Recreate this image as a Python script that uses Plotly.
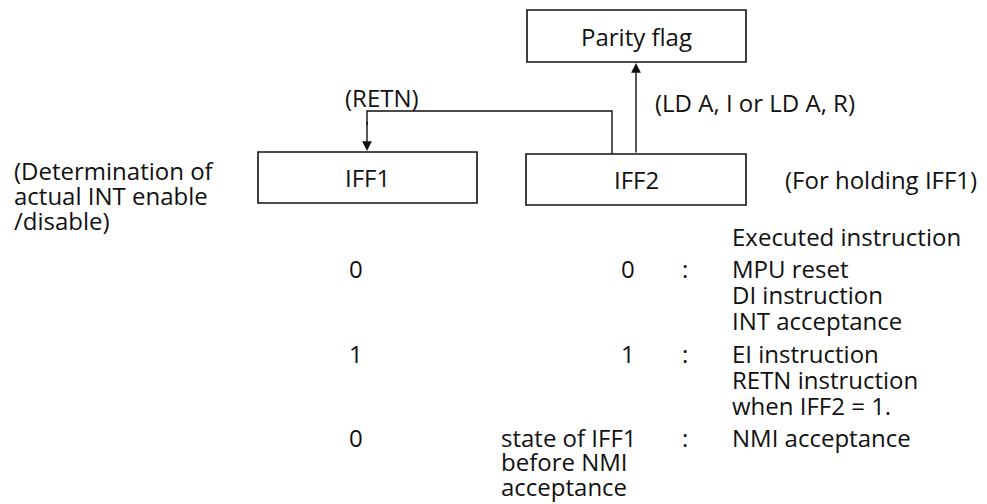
import plotly.graph_objects as go

# ---- content (text of the diagram) ----
box_labels = ["Parity flag", "IFF1", "IFF2"]
flow_labels = ["(RETN)", "(LD A, I or LD A, R)"]
side_notes = ["(Determination of", "actual INT enable", "/disable)"]
iff2_note = "(For holding IFF1)"
table_header = "Executed instruction"
iff1_states = ["0", "1", "0"]
iff2_states = [["0"], ["1"], ["state of IFF1", "before NMI", "acceptance"]]
instructions = [
    ["MPU reset", "DI instruction", "INT acceptance"],
    ["EI instruction", "RETN instruction", "when IFF2 = 1."],
    ["NMI acceptance"],
]

# ---- layout geometry (pixel-like axis units) ----
W, H = 987, 504
FONT = "Open Sans"
FS = 24
INK = "#111111"

box_geom = {
    "Parity flag": (527, 746, 10, 62),
    "IFF1": (258, 477, 152, 203),
    "IFF2": (526, 746, 154, 205),
}
row_y = [268, 353, 437]
line_step = 26

fig = go.Figure()
fig.add_trace(go.Scatter(x=[0, W], y=[0, H], mode="markers",
                         marker=dict(opacity=0), hoverinfo="skip", showlegend=False))

shapes = []
annotations = []

def text(x, y, s, anchor="left"):
    annotations.append(dict(x=x, y=y, xref="x", yref="y", text=s, showarrow=False,
                            xanchor=anchor, yanchor="middle",
                            font=dict(family=FONT, size=FS, color=INK)))

for lab in box_labels:
    x0, x1, y0, y1 = box_geom[lab]
    shapes.append(dict(type="rect", x0=x0, x1=x1, y0=y0, y1=y1, xref="x", yref="y",
                       line=dict(color=INK, width=1.6), fillcolor="rgba(0,0,0,0)"))
    text((x0 + x1) / 2, (y0 + y1) / 2, lab, anchor="center")

# RETN feedback path: IFF2 top -> up -> left -> down into IFF1 (arrow)
shapes.append(dict(type="path", path="M 612 154 L 612 111 L 367 111 L 367 125",
                   xref="x", yref="y", line=dict(color=INK, width=1.4)))
annotations.append(dict(x=367, y=151, ax=367, ay=120, xref="x", yref="y",
                        axref="x", ayref="y", showarrow=True, arrowhead=2,
                        arrowsize=1.4, arrowwidth=1.4, arrowcolor=INK, text=""))
# IFF2 -> Parity flag arrow
annotations.append(dict(x=636, y=63, ax=636, ay=154, xref="x", yref="y",
                        axref="x", ayref="y", showarrow=True, arrowhead=2,
                        arrowsize=1.4, arrowwidth=1.4, arrowcolor=INK, text=""))

text(382, 97, flow_labels[0], anchor="center")
text(653, 102, flow_labels[1])

for i, s in enumerate(side_notes):
    text(12, 170 + i * 25, s)
text(783, 179, iff2_note)
text(730, 236, table_header)

for r, y in enumerate(row_y):
    text(356, y, iff1_states[r], anchor="center")
    st = iff2_states[r]
    if len(st) == 1:
        text(637, y, st[0], anchor="right")
    else:
        for k, s in enumerate(st):
            text(499, y + k * 24.5, s)
    text(685, y, ":", anchor="center")
    for k, s in enumerate(instructions[r]):
        text(730, y + k * line_step, s)

fig.update_layout(
    width=W, height=H, margin=dict(l=0, r=0, t=0, b=0),
    paper_bgcolor="white", plot_bgcolor="white",
    xaxis=dict(range=[0, W], visible=False, fixedrange=True),
    yaxis=dict(range=[H, 0], visible=False, fixedrange=True),
    shapes=shapes, annotations=annotations, showlegend=False,
)
fig.write_html("out.html", config={"displayModeBar": False},
               post_script="document.body.style.margin='0';document.body.style.overflow='hidden';")
